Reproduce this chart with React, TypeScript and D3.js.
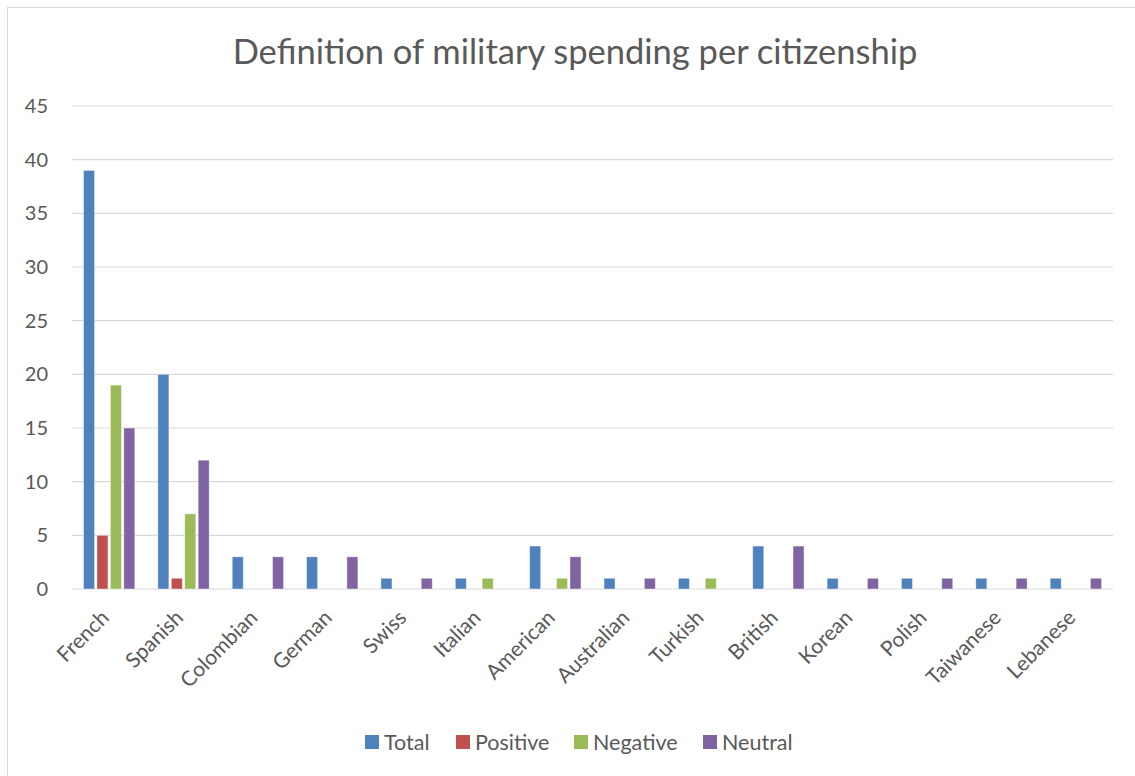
import React from "react";
import * as d3 from "d3";

const categories = ["French", "Spanish", "Colombian", "German", "Swiss", "Italian", "American", "Australian", "Turkish", "British", "Korean", "Polish", "Taiwanese", "Lebanese"];
const seriesNames = ["Total", "Positive", "Negative", "Neutral"];
const totalValues = [39, 20, 3, 3, 1, 1, 4, 1, 1, 4, 1, 1, 1, 1];
const positiveValues = [5, 1, 0, 0, 0, 0, 0, 0, 0, 0, 0, 0, 0, 0];
const negativeValues = [19, 7, 0, 0, 0, 1, 1, 0, 1, 0, 0, 0, 0, 0];
const neutralValues = [15, 12, 3, 3, 1, 0, 3, 1, 0, 4, 1, 1, 1, 1];
const yTicks = [0, 5, 10, 15, 20, 25, 30, 35, 40, 45];
const colors = ["#4F81BD", "#C0504D", "#9BBB59", "#8064A2"];

const W = 1135, H = 776;
const FONT = "Lato, 'Open Sans', sans-serif";

export default function App() {
  const left = 72, right = 1113, top = 106, bottom = 589;
  const x = d3.scaleBand().domain(categories).range([left, right]).paddingInner(0.31).paddingOuter(0.155);
  const x1 = d3.scaleBand().domain(seriesNames).range([0, x.bandwidth()]).paddingInner(0.18);
  const y = d3.scaleLinear().domain([0, 45]).range([bottom, top]);
  const all = [totalValues, positiveValues, negativeValues, neutralValues];
  const legendX = [365, 456, 574, 703];

  return (
    <svg width={W} height={H} style={{ display: "block", position: "absolute", left: 0, top: 0 }}>
      <rect x={0} y={0} width={W} height={H} fill="#fff" />
      <rect x={7.5} y={7.5} width={W + 10} height={H + 10} fill="#fff" stroke="#D9D9D9" strokeWidth={1} />
      <text x={575} y={64} textAnchor="middle" fontFamily={FONT} fontSize={34.5} fill="#595959">
        Definition of military spending per citizenship
      </text>
      {yTicks.map((t) => (
        <g key={t}>
          <line x1={left} x2={right} y1={y(t)} y2={y(t)} stroke="#D9D9D9" strokeWidth={1.2} />
          <text x={48} y={y(t)} dy="0.35em" textAnchor="end" fontFamily={FONT} fontSize={20} fill="#595959">{t}</text>
        </g>
      ))}
      {categories.map((c, i) => (
        <g key={c} transform={`translate(${x(c)},0)`}>
          {all.map((vals, s) =>
            vals[i] > 0 ? (
              <rect key={s} x={x1(seriesNames[s])} y={y(vals[i])} width={x1.bandwidth()} height={y(0) - y(vals[i])}
                fill={colors[s]} stroke="#fff" strokeOpacity={0.5} strokeWidth={0.8} />
            ) : null
          )}
        </g>
      ))}
      {categories.map((c) => {
        const cx = (x(c) as number) + x.bandwidth() / 2 + 1;
        const cy = 619;
        return (
          <text key={c} transform={`translate(${cx},${cy}) rotate(-45)`} textAnchor="end" fontFamily={FONT} fontSize={21} fill="#595959">{c}</text>
        );
      })}
      {seriesNames.map((s, i) => (
        <g key={s}>
          <rect x={legendX[i]} y={735} width={14} height={14} fill={colors[i]} />
          <text x={legendX[i] + 19} y={742} dy="0.35em" fontFamily={FONT} fontSize={21.5} fill="#595959">{s}</text>
        </g>
      ))}
    </svg>
  );
}
